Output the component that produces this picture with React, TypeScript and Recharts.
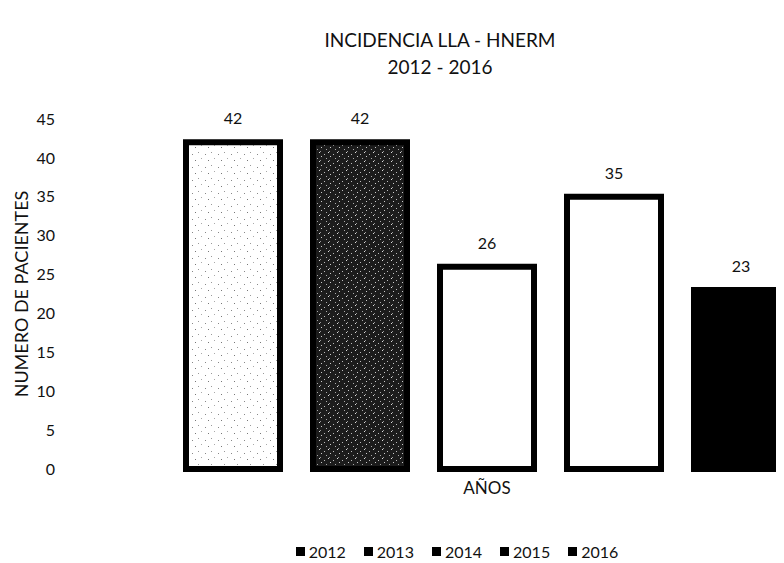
import React from "react";
import { BarChart, Bar, XAxis, YAxis, Legend, LabelList } from "recharts";

const categories = ["AÑOS"];
const years = ["2012", "2013", "2014", "2015", "2016"];
const patients = [42, 42, 26, 35, 23];
const yTicks = [0, 5, 10, 15, 20, 25, 30, 35, 40, 45];

const fills = ["url(#speckleLight)", "url(#speckleDark)", "#ffffff", "#ffffff", "#000000"];

const data = categories.map((cat) => {
  const row: Record<string, string | number> = { cat };
  years.forEach((y, i) => {
    row["y" + y] = patients[i];
  });
  return row;
});

const FONT = "Lato, 'Open Sans', sans-serif";

function LegendRow({ payload }: any) {
  return (
    <div
      style={{
        height: 24,
        display: "flex",
        justifyContent: "center",
        alignItems: "center",
        gap: 18,
        fontFamily: FONT,
        fontSize: 16,
        color: "#111",
      }}
    >
      {(payload || []).map((p: any) => (
        <div key={p.value} style={{ display: "flex", alignItems: "center", gap: 4 }}>
          <span style={{ width: 9, height: 9, background: "#000", display: "inline-block" }} />
          <span>{p.value}</span>
        </div>
      ))}
    </div>
  );
}

export default function App() {
  return (
    <div style={{ position: "relative", width: 776, height: 555, overflow: "hidden", fontFamily: FONT }}>
      <div
        style={{
          position: "absolute",
          left: 0,
          width: 864,
          top: 18,
          textAlign: "center",
          fontSize: 19,
          lineHeight: "27px",
          color: "#111",
        }}
      >
        <div>INCIDENCIA LLA - HNERM</div>
        <div>2012 - 2016</div>
      </div>
      <BarChart
        width={898}
        height={555}
        data={data}
        margin={{ top: 111, right: 0, bottom: 0, left: 0 }}
        barSize={94}
        barGap={33}
      >
        <defs>
          <pattern id="speckleLight" width="13" height="13" patternUnits="userSpaceOnUse">
            <rect width="13" height="13" fill="#ffffff" />
            <rect x="2" y="3" width="1" height="1" fill="#888" />
            <rect x="8" y="1" width="1" height="1" fill="#999" />
            <rect x="5" y="9" width="1" height="1" fill="#777" />
            <rect x="11" y="7" width="1" height="1" fill="#aaa" />
          </pattern>
          <pattern id="speckleDark" width="9" height="9" patternUnits="userSpaceOnUse">
            <rect width="9" height="9" fill="#1c1c1c" />
            <rect x="1" y="2" width="1" height="1" fill="#bbb" />
            <rect x="5" y="0" width="1" height="1" fill="#ddd" />
            <rect x="3" y="6" width="1" height="1" fill="#aaa" />
            <rect x="7" y="4" width="1" height="1" fill="#ccc" />
            <rect x="6" y="8" width="1" height="1" fill="#999" />
          </pattern>
        </defs>
        <XAxis
          dataKey="cat"
          axisLine={false}
          tickLine={false}
          tickSize={0}
          tickMargin={13}
          height={70}
          tick={{ fill: "#111", fontSize: 17, fontFamily: FONT }}
        />
        <YAxis
          width={60}
          domain={[0, 45]}
          ticks={yTicks}
          interval={0}
          axisLine={false}
          tickLine={false}
          tickSize={0}
          tickMargin={13}
          tick={{ fill: "#111", fontSize: 16, fontFamily: FONT }}
          label={{
            value: "NUMERO DE PACIENTES",
            angle: -90,
            position: "insideLeft",
            offset: 14,
            style: { textAnchor: "middle", fill: "#111", fontSize: 18, fontFamily: FONT },
          }}
        />
        <Legend verticalAlign="bottom" content={<LegendRow />} />
        {years.map((y, i) => (
          <Bar
            key={y}
            dataKey={"y" + y}
            name={y}
            fill={fills[i]}
            stroke="#000"
            strokeWidth={6}
            isAnimationActive={false}
          >
            <LabelList
              dataKey={"y" + y}
              position="top"
              offset={18}
              fill="#111"
              fontSize={16}
              fontFamily={FONT}
            />
          </Bar>
        ))}
      </BarChart>
    </div>
  );
}
